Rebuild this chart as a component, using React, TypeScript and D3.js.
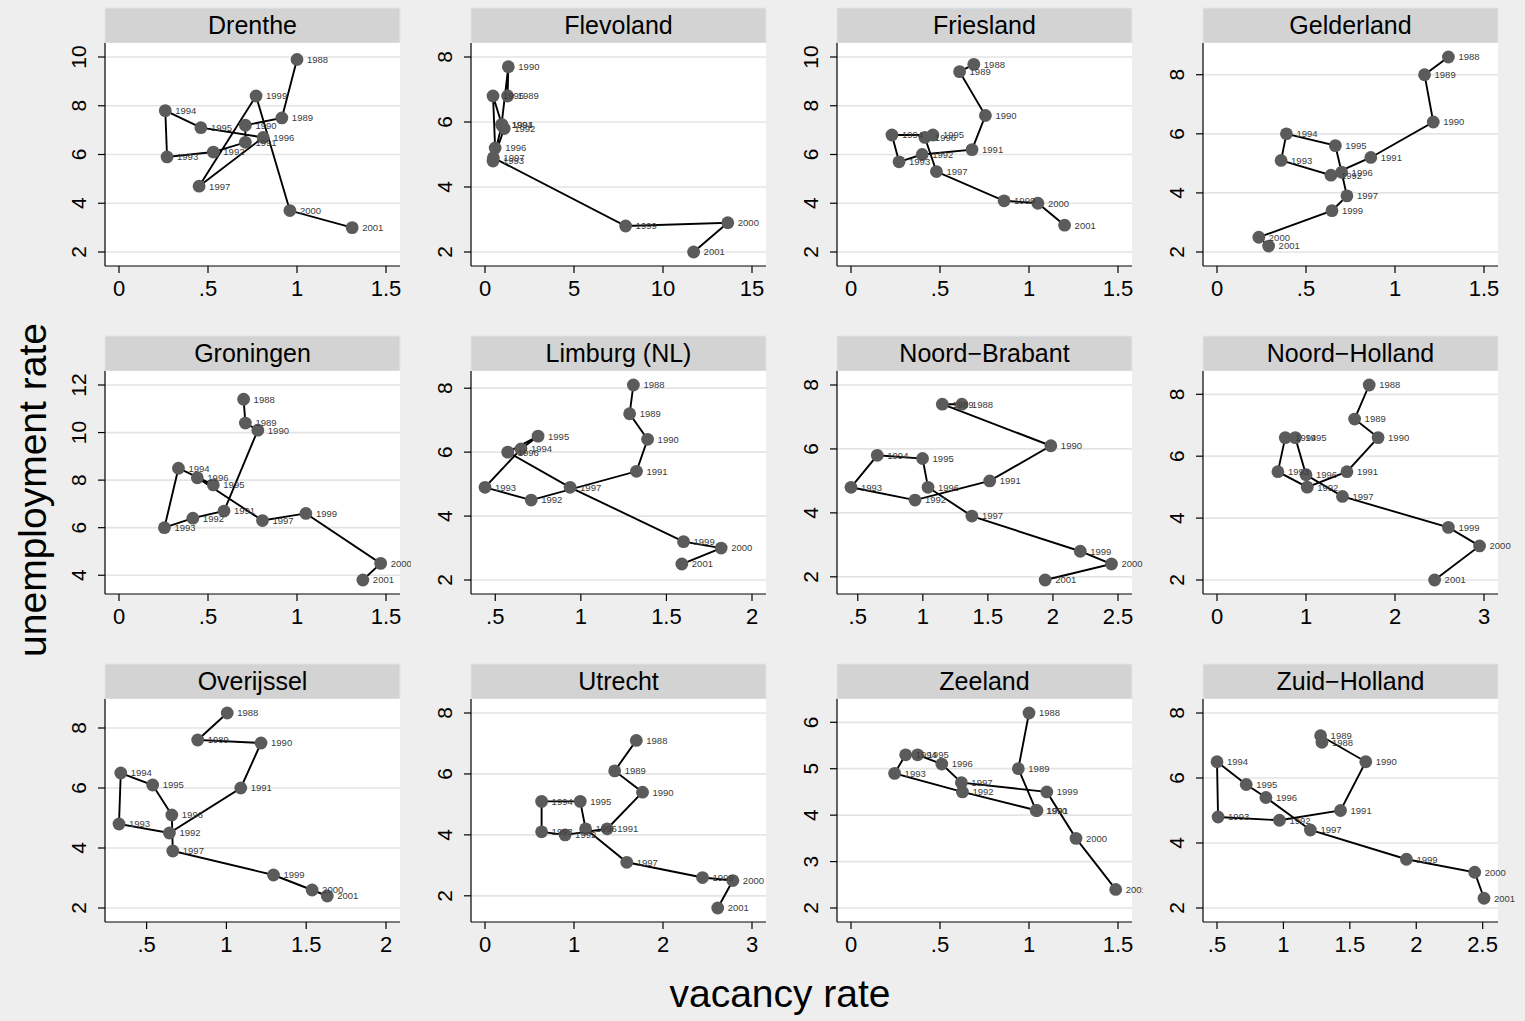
import React from "react";
import * as d3 from "d3";

// years on the x of each curve (1998 is missing in the source data)
const years = [1988, 1989, 1990, 1991, 1992, 1993, 1994, 1995, 1996, 1997, 1999, 2000, 2001];

// vacancy rate (V) and unemployment rate (U) per province, in year order
const drentheV = [1.0, 0.915, 0.71, 0.71, 0.53, 0.27, 0.26, 0.46, 0.81, 0.45, 0.77, 0.96, 1.31];
const drentheU = [9.9, 7.5, 7.2, 6.5, 6.1, 5.9, 7.8, 7.1, 6.7, 4.7, 8.4, 3.7, 3.0];
const flevolandV = [null, 1.27, 1.31, 0.93, 1.08, 0.45, 0.95, 0.45, 0.57, 0.47, 7.9, 13.64, 11.72];
const flevolandU = [null, 6.8, 7.7, 5.92, 5.8, 4.8, 5.92, 6.8, 5.2, 4.9, 2.8, 2.9, 2.0];
const frieslandV = [0.69, 0.61, 0.755, 0.68, 0.4, 0.27, 0.23, 0.46, 0.415, 0.48, 0.86, 1.05, 1.2];
const frieslandU = [9.7, 9.4, 7.6, 6.2, 6.0, 5.7, 6.8, 6.8, 6.7, 5.3, 4.1, 4.0, 3.1];
const gelderlandV = [1.3, 1.166, 1.215, 0.864, 0.64, 0.36, 0.39, 0.665, 0.7, 0.73, 0.646, 0.235, 0.29];
const gelderlandU = [8.6, 8.0, 6.4, 5.2, 4.6, 5.1, 6.0, 5.6, 4.7, 3.9, 3.4, 2.5, 2.2];
const groningenV = [0.7, 0.71, 0.78, 0.59, 0.415, 0.255, 0.334, 0.53, 0.44, 0.806, 1.05, 1.47, 1.37];
const groningenU = [11.4, 10.4, 10.1, 6.7, 6.4, 6.0, 8.5, 7.8, 8.1, 6.3, 6.6, 4.5, 3.8];
const limburgV = [1.307, 1.285, 1.39, 1.325, 0.71, 0.44, 0.65, 0.75, 0.573, 0.937, 1.6, 1.82, 1.59];
const limburgU = [8.1, 7.2, 6.4, 5.4, 4.5, 4.9, 6.1, 6.5, 6.0, 4.9, 3.2, 3.0, 2.5];
const noordBrabantV = [1.3, 1.15, 1.984, 1.514, 0.94, 0.448, 0.65, 0.998, 1.04, 1.377, 2.21, 2.45, 1.94];
const noordBrabantU = [7.4, 7.4, 6.1, 5.0, 4.4, 4.8, 5.8, 5.7, 4.8, 3.9, 2.8, 2.4, 1.9];
const noordHollandV = [1.71, 1.546, 1.81, 1.46, 1.014, 0.684, 0.767, 0.88, 1.0, 1.41, 2.6, 2.95, 2.445];
const noordHollandU = [8.3, 7.2, 6.6, 5.5, 5.0, 5.5, 6.6, 6.6, 5.4, 4.7, 3.7, 3.1, 2.0];
const overijsselV = [1.005, 0.82, 1.217, 1.09, 0.643, 0.327, 0.338, 0.538, 0.658, 0.664, 1.295, 1.537, 1.632];
const overijsselU = [8.5, 7.6, 7.5, 6.0, 4.5, 4.8, 6.5, 6.1, 5.1, 3.9, 3.1, 2.6, 2.4];
const utrechtV = [1.7, 1.457, 1.77, 1.373, 0.9, 0.636, 0.636, 1.07, 1.13, 1.593, 2.444, 2.785, 2.615];
const utrechtU = [7.1, 6.1, 5.4, 4.2, 4.0, 4.1, 5.1, 5.1, 4.2, 3.1, 2.6, 2.5, 1.6];
const zeelandV = [1.0, 0.94, 1.04, 1.045, 0.626, 0.245, 0.307, 0.374, 0.51, 0.62, 1.1, 1.264, 1.487];
const zeelandU = [6.2, 5.0, 4.1, 4.1, 4.5, 4.9, 5.3, 5.3, 5.1, 4.7, 4.5, 3.5, 2.4];
const zuidHollandV = [1.29, 1.28, 1.62, 1.43, 0.97, 0.508, 0.5, 0.72, 0.868, 1.203, 1.926, 2.44, 2.51];
const zuidHollandU = [7.1, 7.3, 6.5, 5.0, 4.7, 4.8, 6.5, 5.8, 5.4, 4.4, 3.5, 3.1, 2.3];

// axis tick labels
const xTicks0to15h = [0, 0.5, 1, 1.5];
const xTicks0to15 = [0, 5, 10, 15];
const xTicksHalfTo2 = [0.5, 1, 1.5, 2];
const xTicksHalfTo25 = [0.5, 1, 1.5, 2, 2.5];
const xTicks0to3 = [0, 1, 2, 3];
const yTicks2to10 = [2, 4, 6, 8, 10];
const yTicks2to8 = [2, 4, 6, 8];
const yTicks4to12 = [4, 6, 8, 10, 12];
const yTicks2to6 = [2, 3, 4, 5, 6];

const panels = [
  { name: "Drenthe", v: drentheV, u: drentheU, xt: xTicks0to15h, yt: yTicks2to10 },
  { name: "Flevoland", v: flevolandV, u: flevolandU, xt: xTicks0to15, yt: yTicks2to8 },
  { name: "Friesland", v: frieslandV, u: frieslandU, xt: xTicks0to15h, yt: yTicks2to10 },
  { name: "Gelderland", v: gelderlandV, u: gelderlandU, xt: xTicks0to15h, yt: yTicks2to8 },
  { name: "Groningen", v: groningenV, u: groningenU, xt: xTicks0to15h, yt: yTicks4to12 },
  { name: "Limburg (NL)", v: limburgV, u: limburgU, xt: xTicksHalfTo2, yt: yTicks2to8 },
  { name: "Noord\u2212Brabant", v: noordBrabantV, u: noordBrabantU, xt: xTicksHalfTo25, yt: yTicks2to8 },
  { name: "Noord\u2212Holland", v: noordHollandV, u: noordHollandU, xt: xTicks0to3, yt: yTicks2to8 },
  { name: "Overijssel", v: overijsselV, u: overijsselU, xt: xTicksHalfTo2, yt: yTicks2to8 },
  { name: "Utrecht", v: utrechtV, u: utrechtU, xt: xTicks0to3, yt: yTicks2to8 },
  { name: "Zeeland", v: zeelandV, u: zeelandU, xt: xTicks0to15h, yt: yTicks2to6 },
  { name: "Zuid\u2212Holland", v: zuidHollandV, u: zuidHollandU, xt: xTicksHalfTo25, yt: yTicks2to8 },
];

const FONT = "'Liberation Sans', Arial, Helvetica, sans-serif";
const fmt = (t: number) => String(t).replace(/^0\./, ".");

function Panel({ p, i }: { p: any; i: number }) {
  const col = i % 4;
  const row = Math.floor(i / 4);
  const left = 105 + col * 366;
  const top = 8 + row * 328;
  const pw = 295;
  const hh = 35;
  const ph = 223;
  const pt = top + hh;
  const pb = pt + ph;
  const pad = 14;

  const pts = years
    .map((yr, k) => ({ year: yr, v: p.v[k], u: p.u[k] }))
    .filter((d) => d.v != null);

  const xDom = [
    Math.min(d3.min(p.xt) as number, d3.min(pts, (d) => d.v) as number),
    Math.max(d3.max(p.xt) as number, d3.max(pts, (d) => d.v) as number),
  ];
  const yDom = [
    Math.min(d3.min(p.yt) as number, d3.min(pts, (d) => d.u) as number),
    Math.max(d3.max(p.yt) as number, d3.max(pts, (d) => d.u) as number),
  ];
  const x = d3.scaleLinear().domain(xDom).range([left + pad, left + pw - pad]);
  const y = d3.scaleLinear().domain(yDom).range([pb - pad, pt + pad]);
  const line = d3
    .line<any>()
    .x((d) => x(d.v))
    .y((d) => y(d.u));
  const clipId = `clip-${i}`;
  // labels may run a little past the plot's right edge before they are cut
  const clipExtra = col === 3 ? 18 : 11;

  return (
    <g>
      <defs>
        <clipPath id={clipId}>
          <rect x={left} y={pt} width={pw + clipExtra} height={ph} />
        </clipPath>
      </defs>
      <rect x={left} y={top} width={pw} height={hh} fill="#d3d3d3" stroke="#dbe7ec" strokeWidth={1} />
      <text x={left + pw / 2} y={top + 26} textAnchor="middle" fontSize={25} fill="#000">
        {p.name}
      </text>
      <rect x={left} y={pt} width={pw} height={ph} fill="#fff" />
      {p.yt.map((t: number) => (
        <line key={t} x1={left} x2={left + pw} y1={y(t)} y2={y(t)} stroke="#e4e4e4" strokeWidth={1.7} />
      ))}
      <g clipPath={`url(#${clipId})`}>
        <path d={line(pts) as string} fill="none" stroke="#000" strokeWidth={1.9} />
        {pts.map((d) => (
          <circle key={d.year} cx={x(d.v)} cy={y(d.u)} r={6.4} fill="#5b5b5b" />
        ))}
        {pts.map((d) => (
          <text key={"l" + d.year} x={x(d.v) + 10} y={y(d.u) + 3.4} fontSize={9.5} fill="#3a3a3a">
            {d.year}
          </text>
        ))}
      </g>
      <line x1={left} x2={left} y1={pt} y2={pb} stroke="#000" strokeWidth={1.2} />
      <line x1={left} x2={left + pw} y1={pb} y2={pb} stroke="#000" strokeWidth={1.2} />
      {p.yt.map((t: number) => (
        <g key={"y" + t}>
          <line x1={left - 7} x2={left} y1={y(t)} y2={y(t)} stroke="#000" strokeWidth={1.2} />
          <text
            transform={`translate(${left - 19},${y(t)}) rotate(-90)`}
            textAnchor="middle"
            fontSize={21}
            fill="#000"
          >
            {fmt(t)}
          </text>
        </g>
      ))}
      {p.xt.map((t: number) => (
        <g key={"x" + t}>
          <line x1={x(t)} x2={x(t)} y1={pb} y2={pb + 7} stroke="#000" strokeWidth={1.2} />
          <text x={x(t)} y={pb + 30} textAnchor="middle" fontSize={22} fill="#000">
            {fmt(t)}
          </text>
        </g>
      ))}
    </g>
  );
}

export default function App() {
  const width = 1525;
  const height = 1021;
  return (
    <svg
      width={width}
      height={height}
      style={{ position: "absolute", left: 0, top: 0, fontFamily: FONT }}
    >
      <rect width={width} height={height} fill="#eeeeee" />
      {panels.map((p, i) => (
        <Panel key={p.name} p={p} i={i} />
      ))}
      <text x={780} y={1007} textAnchor="middle" fontSize={39} fill="#000">
        vacancy rate
      </text>
      <text transform="translate(46,490) rotate(-90)" textAnchor="middle" fontSize={39} fill="#000">
        unemployment rate
      </text>
    </svg>
  );
}
